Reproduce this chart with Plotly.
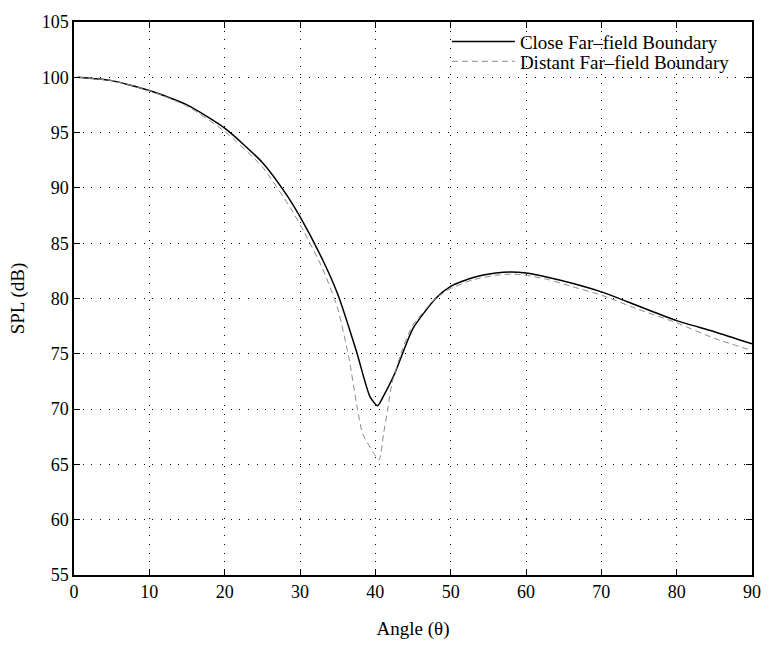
import plotly.graph_objects as go

# Sound pressure level vs. angle for the two far-field boundary distances
angle_close = [0.5, 5, 10, 15, 20, 25, 28, 30, 33, 35, 37.5, 39.3, 40.3, 41.1,
               42.5, 43.6, 45, 48, 50, 53, 56, 58, 60, 63, 66, 70, 75, 80, 85, 90]
spl_close = [100, 99.7, 98.8, 97.5, 95.4, 92.3, 89.6, 87.4, 83.5, 80.4, 75.2, 71.1,
             70.3, 71.2, 73.1, 75.0, 77.3, 80.0, 81.1, 81.9, 82.3, 82.4, 82.3, 81.9,
             81.4, 80.6, 79.3, 78.0, 77.0, 75.9]

angle_distant = [0.5, 5, 10, 15, 20, 25, 28.9, 30.4, 33, 35, 36.5, 37.6, 38.3, 39.8,
                 40.5, 41.1, 41.6, 42.2, 43.8, 45, 48, 50, 53, 56, 58, 60, 63, 66,
                 70, 75, 80, 85, 90]
spl_distant = [100, 99.7, 98.8, 97.4, 95.1, 91.9, 88.0, 86.2, 82.7, 79.1, 74.6, 70.1,
               67.8, 66.0, 65.4, 67.8, 69.8, 72.3, 75.8, 77.6, 80.0, 80.9, 81.7, 82.1,
               82.2, 82.1, 81.7, 81.1, 80.3, 79.0, 77.8, 76.4, 75.3]

x_ticks = [0, 10, 20, 30, 40, 50, 60, 70, 80, 90]
y_ticks = [55, 60, 65, 70, 75, 80, 85, 90, 95, 100, 105]

FONT = "Liberation Serif, Times New Roman, serif"

fig = go.Figure()
fig.add_trace(go.Scatter(
    x=angle_close, y=spl_close, mode="lines", name="Close Far\u2013field Boundary",
    line=dict(color="black", width=1.5, shape="spline", smoothing=0.6),
    legend="legend",
))
fig.add_trace(go.Scatter(
    x=angle_distant, y=spl_distant, mode="lines", name="Distant Far\u2013field Boundary",
    line=dict(color="#8a8a8a", width=1, dash="6px,4px", shape="spline", smoothing=0.6),
    legend="legend2",
))

axis_common = dict(
    showline=True, linecolor="black", linewidth=1.5, mirror="ticks",
    ticks="inside", ticklen=6, tickcolor="black", tickwidth=1,
    showgrid=True, gridcolor="black", gridwidth=1, griddash="1px,7.7px",
    zeroline=False, tickfont=dict(family=FONT, size=18, color="black"),
)

fig.update_xaxes(range=[0, 90], tickvals=x_ticks,
                 title=dict(text="Angle (\u03b8)", font=dict(family=FONT, size=19, color="black"),
                            standoff=20),
                 **axis_common)
fig.update_yaxes(range=[55, 105], tickvals=y_ticks,
                 title=dict(text="SPL (dB)", font=dict(family=FONT, size=19, color="black"),
                            standoff=12),
                 **axis_common)

legend_common = dict(
    xanchor="left", yanchor="top",
    bgcolor="rgba(0,0,0,0)", borderwidth=0,
    font=dict(family=FONT, size=19, color="black"),
    itemwidth=63,
)

fig.update_layout(
    width=773, height=648,
    margin=dict(l=74, r=15, t=17, b=71),
    plot_bgcolor="white", paper_bgcolor="white",
    font=dict(family=FONT, size=18, color="black"),
    showlegend=True,
    legend=dict(x=0.55, y=0.999, **legend_common),
    legend2=dict(x=0.55, y=0.963, **legend_common),
)

fig.write_html("out.html")
